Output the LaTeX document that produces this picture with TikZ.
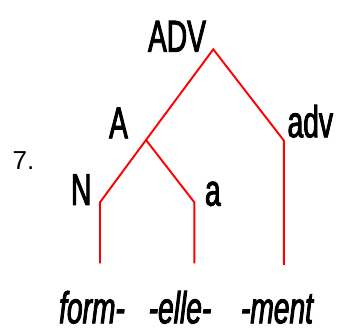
\documentclass[tikz,border=0pt]{standalone}
\usepackage{fontspec}
\setmainfont{Liberation Sans}
\newfontfamily\condfont[FakeStretch=0.63,FakeBold=2]{Liberation Sans}
\begin{document}
\begin{tikzpicture}[x=1pt,y=1pt,
  lbl/.style={anchor=base,inner sep=0pt,text depth=0pt,font=\condfont\fontsize{44.7}{50}\selectfont},
  morph/.style={anchor=base,inner sep=0pt,text depth=0pt,font=\condfont\itshape\fontsize{44.7}{50}\selectfont},
  num/.style={anchor=base west,inner sep=0pt,text depth=0pt,font=\fontsize{26}{30}\selectfont},
  branch/.style={draw=red,line width=1.9pt,line join=miter}]
\useasboundingbox (0,0) rectangle (337,331);
% corners
\coordinate (top) at (213.3,281.7);
\coordinate (av) at (146,191);
\coordinate (advc) at (283.8,190.5);
\coordinate (advb) at (283.8,66);
\coordinate (nc) at (100,128.7);
\coordinate (nb) at (100,67.7);
\coordinate (ac) at (194.3,128.7);
\coordinate (ab) at (194.3,67.7);
% labels
\node[lbl] (ADV) at (177,279.3) {ADV};
\node[lbl] (A) at (118.5,192.7) {A};
\node[lbl] (adv) at (310.3,193.7) {adv};
\node[lbl] (N) at (81.2,126) {N};
\node[lbl] (a) at (212.9,125.3) {a};
\node[num] (seven) at (12.5,161) {7.};
\node[morph] (form) at (92,7.7) {form-};
\node[morph] (elle) at (180,7.7) {-elle-};
\node[morph] (ment) at (277,7.7) {-ment};
% branches
\draw[branch] (advb) -- (advc) -- (top) -- (av) -- (nc) -- (nb);
\draw[branch] (av) -- (ac) -- (ab);
\end{tikzpicture}
\end{document}
